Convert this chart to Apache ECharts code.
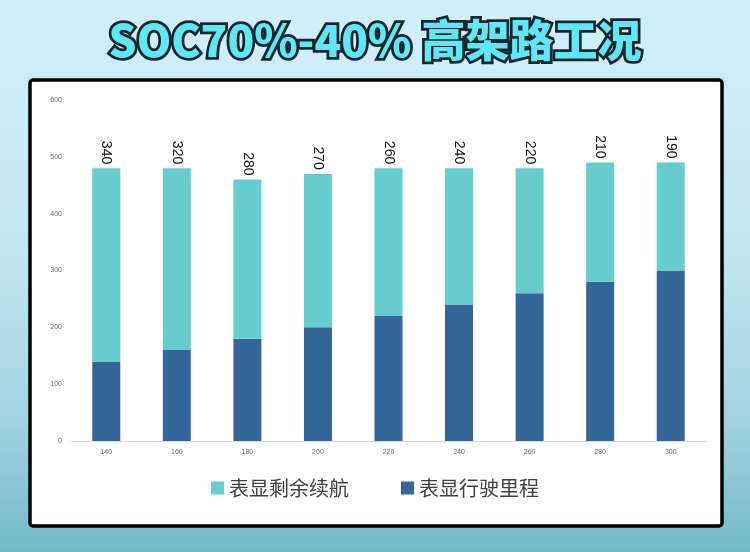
<!DOCTYPE html>
<html><head><meta charset="utf-8">
<script src="https://cdn.jsdelivr.net/npm/echarts@6/dist/echarts.min.js"></script>
<style>html,body{margin:0;padding:0;}#c{width:750px;height:552px;}</style>
</head><body><div id="c"></div>
<script>
const categories = ['140','160','180','200','220','240','260','280','300'];
const remaining = [340,320,280,270,260,240,220,210,190];
const driven = [140,160,180,200,220,240,260,280,300];
const titleText = 'SOC70%-40% 高架路工况';
const nameRemaining = '表显剩余续航';
const nameDriven = '表显行驶里程';

const chart = echarts.init(document.getElementById('c'));
chart.setOption({
  backgroundColor: {type:'linear',x:0,y:0,x2:0,y2:1,colorStops:[
    {offset:0,color:'#d0effc'},{offset:0.45,color:'#c3e6f3'},{offset:0.75,color:'#a3d4e2'},{offset:1,color:'#74b9ca'}]},
  graphic: [
    {type:'rect', shape:{x:30,y:80,width:692,height:446,r:3}, style:{fill:'#fff',stroke:'#000',lineWidth:3.5}, z:-10},
    {type:'text', left:'center', top:16, style:{text:titleText, fill:'#5ee8f6', stroke:'#17252c', lineWidth:5.5,
      font:'900 44px "Noto Sans CJK SC", sans-serif'}, z:10}
  ],
  legend: {data:[nameRemaining,nameDriven], bottom:49, left:'center', itemWidth:13, itemHeight:13, itemGap:52,
    icon:'rect', textStyle:{fontSize:20, color:'#404040', fontFamily:'"Noto Sans CJK SC", sans-serif'}},
  grid: {left:71, right:44, top:100, bottom:111},
  xAxis: {type:'category', data:categories,
    axisLine:{lineStyle:{color:'#d9d9d9'}}, axisTick:{show:false},
    axisLabel:{fontSize:7, color:'#666', margin:8}},
  yAxis: {type:'value', min:0, max:600, interval:100,
    splitLine:{show:false}, axisLine:{show:false}, axisTick:{show:false},
    axisLabel:{fontSize:7, color:'#666', margin:9}},
  series: [
    {name:nameDriven, type:'bar', stack:'a', data:driven, barWidth:28, itemStyle:{color:'#346699'}},
    {name:nameRemaining, type:'bar', stack:'a', data:remaining, barWidth:28, itemStyle:{color:'#66cccc'},
      label:{show:true, position:'top', rotate:-90, align:'right', verticalAlign:'middle', distance:4,
        fontSize:14, color:'#111', fontFamily:'"Liberation Sans", Arial, sans-serif'}}
  ]
});
</script></body></html>
